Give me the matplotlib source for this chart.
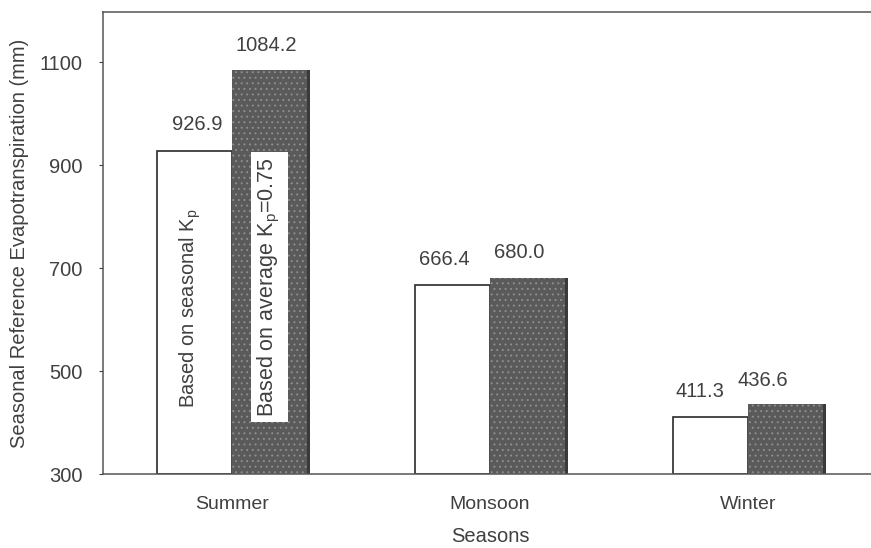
import matplotlib
matplotlib.use("Agg")
import matplotlib.pyplot as plt
import numpy as np

seasons = ["Summer", "Monsoon", "Winter"]
seasonal_kp = [926.9, 666.4, 411.3]
average_kp = [1084.2, 680.0, 436.6]

plt.rcParams['font.family'] = ['Liberation Sans', 'DejaVu Sans']
plt.rcParams['hatch.linewidth'] = 0.7

txt = '#404040'
fig = plt.figure(figsize=(8.71, 5.48), dpi=100)
ax = fig.add_axes([0.1183, 0.135, 0.8886, 0.843])

x = np.arange(len(seasons))
w = 0.29

# white bars
ax.bar(x - w / 2, np.array(seasonal_kp) - 300, w, bottom=300, color='white',
       edgecolor='#2a2a2a', linewidth=1.2, zorder=2)
# dark shadow + speckled bars
ax.bar(x + w / 2 + 0.012, np.array(average_kp) - 300, w, bottom=300, color='#3a3a3a',
       linewidth=0, zorder=2)
ax.bar(x + w / 2, np.array(average_kp) - 300, w, bottom=300, color='#5a5a5a',
       linewidth=0, zorder=3)
ax.bar(x + w / 2, np.array(average_kp) - 300, w, bottom=300, fill=False,
       hatch='...', edgecolor='#8e8e8e', linewidth=0, zorder=3)

# label nudges (points) to follow the scan
dx_white = [2, -6, -8]
dx_dark = [-2, -6, -16]
dy_white = [12, 12, 11]
dy_dark = [11, 12, 10]
for i in range(len(seasons)):
    ax.annotate(f"{seasonal_kp[i]:.1f}", (x[i] - w / 2, seasonal_kp[i]), xytext=(dx_white[i], dy_white[i]),
                textcoords='offset points', ha='center', va='bottom', fontsize=14.5, color=txt)
    ax.annotate(f"{average_kp[i]:.1f}", (x[i] + w / 2, average_kp[i]), xytext=(dx_dark[i], dy_dark[i]),
                textcoords='offset points', ha='center', va='bottom', fontsize=14.5, color=txt)

# in-bar labels
ax.text(x[0] - w / 2 - 0.018, 622, r'Based on seasonal K$_\mathregular{p}$', rotation=90,
        ha='center', va='center', fontsize=14.5, color=txt, zorder=5)
ax.text(x[0] + w / 2, 663, r'Based on average K$_\mathregular{p}$=0.75', rotation=90,
        ha='center', va='center', fontsize=15.5, color=txt, zorder=5,
        bbox=dict(facecolor='white', edgecolor='none', pad=4))

ax.set_xlim(-0.5, 2.5)
ax.set_ylim(300, 1197)
ax.set_yticks([300, 500, 700, 900, 1100])
ax.set_xticks(x)
ax.set_xticklabels(seasons)
ax.tick_params(axis='x', length=0, pad=16, labelsize=14, colors=txt)
ax.tick_params(axis='y', length=3, width=0.8, labelsize=14.5, colors=txt, pad=12)
for s in ['left', 'bottom', 'top']:
    ax.spines[s].set_color('#555555')
    ax.spines[s].set_linewidth(1.1)
ax.spines['right'].set_visible(False)

ax.set_xlabel("Seasons", fontsize=14.5, color=txt, labelpad=10)
ax.set_ylabel("Seasonal Reference Evapotranspiration (mm)", fontsize=14.5, color=txt, labelpad=7)

fig.savefig("out.png", dpi=100)
